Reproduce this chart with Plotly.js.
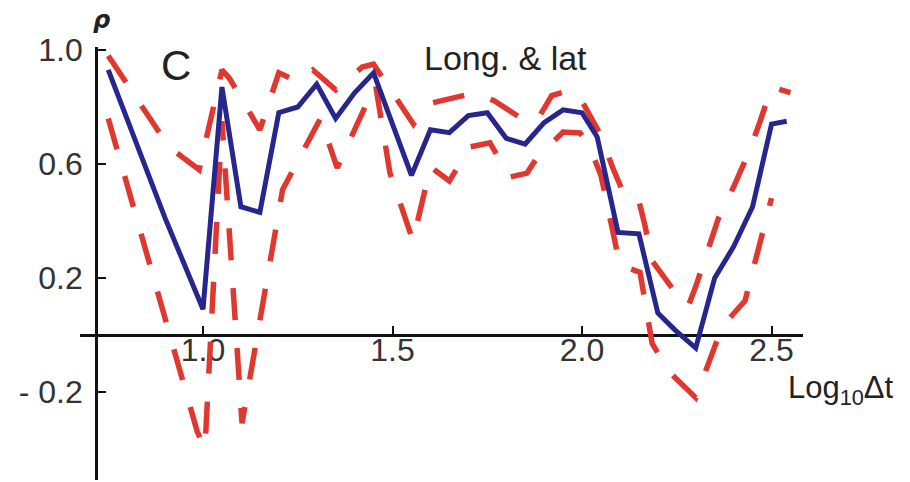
<!DOCTYPE html>
<html>
<head>
<meta charset="utf-8">
<script src="https://cdn.plot.ly/plotly-3.0.1.min.js"></script>
<style>
  html, body { margin: 0; padding: 0; background: #ffffff; }
  #chart { width: 910px; height: 482px; }
</style>
</head>
<body>
<div id="chart"></div>
<script>
// ---- Data ----
// Solid blue curve: correlation rho vs Log10(delta t)
const blueX = [0.75, 0.90, 1.00, 1.05, 1.10, 1.15, 1.20, 1.25, 1.30, 1.35, 1.40, 1.45, 1.50, 1.55, 1.60, 1.65, 1.70, 1.75, 1.80, 1.85, 1.90, 1.95, 2.00, 2.04, 2.095, 2.15, 2.20, 2.245, 2.30, 2.35, 2.40, 2.45, 2.50, 2.54];
const blueY = [0.93, 0.41, 0.09, 0.87, 0.45, 0.43, 0.78, 0.80, 0.88, 0.76, 0.85, 0.92, 0.74, 0.56, 0.72, 0.71, 0.77, 0.78, 0.69, 0.67, 0.745, 0.79, 0.78, 0.695, 0.36, 0.355, 0.077, 0.018, -0.046, 0.20, 0.31, 0.45, 0.74, 0.75];

// Upper dashed red bound
const upperX = [0.75, 0.91, 0.99, 1.05, 1.07, 1.15, 1.20, 1.25, 1.29, 1.35, 1.42, 1.45, 1.49, 1.555, 1.59, 1.68, 1.72, 1.77, 1.84, 1.88, 1.92, 1.97, 2.00, 2.05, 2.08, 2.115, 2.15, 2.165, 2.185, 2.24, 2.28, 2.30, 2.33, 2.36, 2.40, 2.44, 2.47, 2.50, 2.55];
const upperY = [0.98, 0.66, 0.58, 0.93, 0.90, 0.72, 0.92, 0.89, 0.93, 0.86, 0.94, 0.95, 0.87, 0.74, 0.81, 0.84, 0.85, 0.82, 0.76, 0.75, 0.84, 0.86, 0.82, 0.70, 0.59, 0.48, 0.47, 0.39, 0.26, 0.16, 0.10, 0.17, 0.29, 0.41, 0.52, 0.64, 0.75, 0.87, 0.85];

// Lower dashed red bound
const lowerX = [0.75, 0.985, 1.005, 1.05, 1.103, 1.21, 1.31, 1.354, 1.455, 1.493, 1.554, 1.60, 1.65, 1.704, 1.757, 1.81, 1.855, 1.88, 1.95, 1.995, 2.02, 2.05, 2.10, 2.153, 2.185, 2.23, 2.30, 2.37, 2.43, 2.50];
const lowerY = [0.76, -0.34, -0.40, 0.75, -0.31, 0.51, 0.76, 0.586, 0.88, 0.57, 0.33, 0.59, 0.54, 0.66, 0.674, 0.554, 0.568, 0.62, 0.712, 0.709, 0.66, 0.56, 0.245, 0.22, -0.03, -0.13, -0.22, 0.03, 0.12, 0.48];

// Tick labels
const xTickVals = [1.0, 1.5, 2.0, 2.5];
const xTickText = ['1.0', '1.5', '2.0', '2.5'];
const yTickVals = [-0.2, 0.2, 0.6, 1.0];
const yTickText = ['- 0.2', '0.2', '0.6', '1.0'];

// Texts
const panelLabel = 'C';
const panelTitle = 'Long. & lat';
const xLabel = 'Log<sub>10</sub>Δt';
const yLabel = 'ρ';

// ---- Styling / layout ----
const BLUE = '#26268e';
const RED = '#e0382f';
const AXIS = '#111111';
const TXT = '#333333';
const FONT = 'Liberation Sans, Arial, sans-serif';

const xRange = [0.6755, 2.583];
const yRange = [-0.509, 1.0105];
const yAxisCross = 0.718; // x value where the vertical axis sits

const traces = [
  { x: upperX, y: upperY, type: 'scatter', mode: 'lines', name: 'upper',
    line: { color: RED, width: 5.5, dash: '32px,28px' }, hoverinfo: 'skip' },
  { x: lowerX, y: lowerY, type: 'scatter', mode: 'lines', name: 'lower',
    line: { color: RED, width: 5.5, dash: '32px,28px' }, hoverinfo: 'skip' },
  { x: blueX, y: blueY, type: 'scatter', mode: 'lines', name: 'rho',
    line: { color: BLUE, width: 5 }, hoverinfo: 'skip' }
];

const layout = {
  width: 910, height: 482,
  margin: { l: 80, r: 107, t: 47, b: 2 },
  paper_bgcolor: '#ffffff', plot_bgcolor: '#ffffff',
  showlegend: false,
  font: { family: FONT, color: TXT },
  xaxis: {
    range: xRange, anchor: 'free',
    position: (0 - yRange[0]) / (yRange[1] - yRange[0]),
    showline: true, linecolor: AXIS, linewidth: 3,
    showgrid: false, zeroline: false,
    ticks: 'inside', ticklen: 8, tickwidth: 2, tickcolor: AXIS,
    tickvals: xTickVals, ticktext: xTickText,
    tickfont: { family: FONT, size: 32, color: TXT },
    ticklabelstandoff: -14,
    layer: 'below traces'
  },
  yaxis: {
    range: yRange, anchor: 'free',
    position: (yAxisCross - xRange[0]) / (xRange[1] - xRange[0]),
    showline: true, linecolor: AXIS, linewidth: 3,
    showgrid: false, zeroline: false,
    ticks: 'inside', ticklen: 8, tickwidth: 2, tickcolor: AXIS,
    tickvals: yTickVals, ticktext: yTickText,
    tickfont: { family: FONT, size: 32, color: TXT },
    ticklabelstandoff: 6,
    layer: 'below traces'
  },
  annotations: [
    { xref: 'paper', yref: 'paper', x: 0.0304, y: 1.062, xanchor: 'center', yanchor: 'middle',
      text: '<b><i>' + yLabel + '</i></b>',
      showarrow: false, font: { family: 'DejaVu Sans, sans-serif', size: 24, color: '#222' } },
    { xref: 'paper', yref: 'paper', x: 0.1328, y: 0.958, xanchor: 'center', yanchor: 'middle',
      text: panelLabel,
      showarrow: false, font: { family: FONT, size: 42, color: '#222' } },
    { xref: 'paper', yref: 'paper', x: 0.588, y: 0.975, xanchor: 'center', yanchor: 'middle',
      text: panelTitle,
      showarrow: false, font: { family: FONT, size: 34, color: '#222' } },
    { xref: 'paper', yref: 'paper', x: 0.977, y: 0.208, xanchor: 'left', yanchor: 'middle',
      text: xLabel,
      showarrow: false, font: { family: FONT, size: 31, color: '#222' } }
  ]
};

Plotly.newPlot('chart', traces, layout, { displayModeBar: false, staticPlot: true });
</script>
</body>
</html>
